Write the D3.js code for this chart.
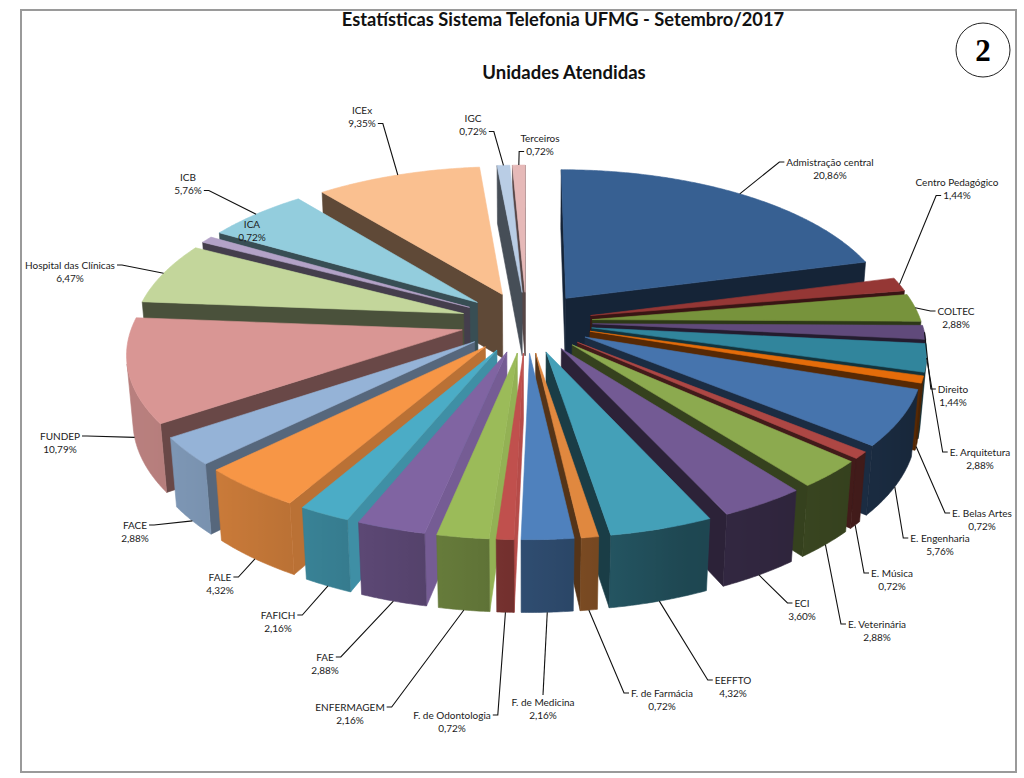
<!DOCTYPE html>
<html>
<head>
<meta charset="utf-8">
<script src="https://cdn.jsdelivr.net/npm/d3@7"></script>
<style>
	body { margin: 0; background: #fff; }
	text { font-family: Lato, "Open Sans", sans-serif; }
	text.badge { font-family: "Liberation Serif", "DejaVu Serif", serif; }
</style>
</head>
<body>
<svg id="chart" width="1024" height="778"></svg>
<script>
// data, clockwise from 12 o'clock
const units = ["Admistração central", "Centro Pedagógico", "COLTEC", "Direito", "E. Arquitetura",
	"E. Belas Artes", "E. Engenharia", "E. Música", "E. Veterinária", "ECI", "EEFFTO",
	"F. de Farmácia", "F. de Medicina", "F. de Odontologia", "ENFERMAGEM", "FAE", "FAFICH",
	"FALE", "FACE", "FUNDEP", "Hospital das Clínicas", "ICA", "ICB", "ICEx", "IGC", "Terceiros"];
const shares = [20.86, 1.44, 2.88, 1.44, 2.88, 0.72, 5.76, 0.72, 2.88, 3.60, 4.32,
	0.72, 2.16, 0.72, 2.16, 2.88, 2.16, 4.32, 2.88, 10.79, 6.47, 0.72, 5.76, 9.35, 0.72, 0.72];

const palette = [
	"#376092", "#953735", "#77933C", "#604A7B", "#31859C", "#E46C0A",
	"#4674AD", "#AD4744", "#8CAA4F", "#735A94", "#44A0B8", "#E0883F",
	"#4F81BD", "#C0504D", "#9BBB59", "#8064A2", "#4BACC6", "#F79646",
	"#95B3D7", "#D99694", "#C3D69B", "#B3A2C7", "#93CDDD", "#FAC090",
	"#B9CDE5", "#E6B9B8"];

// where each data label sits (centre of first line)
const labelAt = [[830, 162], [957, 182], [956, 311], [953, 389], [980, 452], [982, 513],
	[940, 538], [892, 573], [877, 624], [802, 603], [733, 680], [662, 693], [543, 702],
	[452, 715], [350, 707], [325, 657], [278, 615], [220, 577], [135, 525], [60, 436],
	[70, 265], [252, 224], [188, 177], [362, 110], [473, 118], [540, 138]];
const noLeader = ["ICA"];

const svg = d3.select("#chart");
const defs = svg.append("defs");

// frame and titles
svg.append("rect")
	.attr("x", 21).attr("y", 10)
	.attr("width", 995).attr("height", 762)
	.attr("fill", "none").attr("stroke", "#9a9a9a").attr("stroke-width", 2);

svg.append("text")
	.attr("x", 563).attr("y", 26)
	.attr("text-anchor", "middle")
	.attr("font-size", 18.3).attr("font-weight", "bold").attr("fill", "#111")
	.text("Estatísticas Sistema Telefonia UFMG - Setembro/2017");

svg.append("text")
	.attr("x", 564).attr("y", 79)
	.attr("text-anchor", "middle")
	.attr("font-size", 18.5).attr("font-weight", "bold").attr("fill", "#111")
	.text("Unidades Atendidas");

svg.append("circle")
	.attr("cx", 983).attr("cy", 50).attr("r", 27)
	.attr("fill", "none").attr("stroke", "#222").attr("stroke-width", 1);
svg.append("text")
	.attr("class", "badge")
	.attr("x", 983).attr("y", 61)
	.attr("text-anchor", "middle")
	.attr("font-size", 31).attr("font-weight", "bold")
	.text("2");

// 3d view of the pie
const view = {
	cx: 526.5, cy: 322,
	R: 329, depth: 74, explode: 66,
	tilt: 27.5 * Math.PI / 180,
	dist: 2162
};
const sinT = Math.sin(view.tilt), cosT = Math.cos(view.tilt);
const cam = [0, view.dist * sinT, view.dist * cosT];
const deg = Math.PI / 180;

function project(p) {
	let d = -p[1] * sinT - p[2] * cosT;
	let s = view.dist / (view.dist + d);
	return [view.cx + p[0] * s, view.cy + (-p[1] * cosT + p[2] * sinT) * s];
}
function rim(a, r, off, y) {
	return [off[0] + r * Math.sin(a), y, off[2] - r * Math.cos(a)];
}
function seen(n, p) {
	return n[0] * (cam[0] - p[0]) + n[1] * (cam[1] - p[1]) + n[2] * (cam[2] - p[2]) > 0;
}
function shade(col, f) {
	let c = d3.rgb(col);
	return d3.rgb(c.r * f, c.g * f, c.b * f).formatHex();
}
// facing angle of a horizontal normal, same convention as the pie angles
function facing(n) { return Math.atan2(n[0], -n[2]); }

function outerLight(n) {
	let c = Math.cos(facing(n) - 250 * deg);
	return c > 0 ? 0.45 + 0.4 * c : 0.45 + 0.15 * c;
}
function sideLight(n, a) {
	let c = Math.max(0, Math.cos(facing(n) - 90 * deg));
	let g = Math.max(0, -Math.cos(a));
	return 0.38 + 0.57 * c * c * g;
}
function outerSeen(a, off) {
	return seen([Math.sin(a), 0, -Math.cos(a)], rim(a, view.R, off, -view.depth / 2));
}

const line = d3.line();
const arcs = d3.pie().sort(null).value(d => d)(shares);

const slices = arcs.map((d, i) => {
	let mid = (d.startAngle + d.endAngle) / 2;
	return {
		i: i, a0: d.startAngle, a1: d.endAngle, mid: mid,
		off: [view.explode * Math.sin(mid), 0, -view.explode * Math.cos(mid)],
		color: palette[i]
	};
});

const walls = svg.append("g").attr("class", "walls");
const tops = svg.append("g").attr("class", "tops");

function face(g, pts, fill, edge) {
	g.append("path")
		.attr("d", line(pts.map(project)) + "Z")
		.attr("fill", fill)
		.attr("stroke", edge || fill)
		.attr("stroke-width", 0.6)
		.attr("stroke-linejoin", "round");
}

// back slices first
slices.slice().sort((a, b) => -Math.cos(a.mid) + Math.cos(b.mid)).forEach(s => {
	let g = walls.append("g");
	let R = view.R, h = -view.depth;
	let tip = [s.off[0], 0, s.off[2]], tipB = [s.off[0], h, s.off[2]];

	// radial cuts
	let n0 = [-Math.cos(s.a0), 0, -Math.sin(s.a0)];
	if (seen(n0, rim(s.a0, R / 2, s.off, h / 2)))
		face(g, [tip, rim(s.a0, R, s.off, 0), rim(s.a0, R, s.off, h), tipB],
			shade(s.color, sideLight(n0, s.a0)));
	let n1 = [Math.cos(s.a1), 0, Math.sin(s.a1)];
	if (seen(n1, rim(s.a1, R / 2, s.off, h / 2)))
		face(g, [tip, rim(s.a1, R, s.off, 0), rim(s.a1, R, s.off, h), tipB],
			shade(s.color, sideLight(n1, s.a1)));

	// curved outside, one shape with a gradient across it
	let steps = Math.max(2, Math.ceil((s.a1 - s.a0) / (0.5 * deg)));
	let vis = [];
	for (let k = 0; k <= steps; k++) {
		let t = s.a0 + (s.a1 - s.a0) * k / steps;
		if (outerSeen(t, s.off)) vis.push(t);
	}
	if (vis.length < 2) return;
	let upper = vis.map(t => rim(t, R, s.off, 0));
	let lower = vis.map(t => rim(t, R, s.off, h)).reverse();
	let xs = vis.map(t => project(rim(t, R, s.off, h / 2))[0]);
	let x1 = xs[0], x2 = xs[xs.length - 1];
	let id = "wall" + s.i;
	let grad = defs.append("linearGradient")
		.attr("id", id)
		.attr("gradientUnits", "userSpaceOnUse")
		.attr("x1", x1).attr("x2", x2).attr("y1", 0).attr("y2", 0);
	vis.forEach((t, k) => {
		let off = Math.abs(x2 - x1) < 0.5 ? k / (vis.length - 1) : (xs[k] - x1) / (x2 - x1);
		grad.append("stop")
			.attr("offset", Math.max(0, Math.min(1, off)))
			.attr("stop-color", shade(s.color, outerLight([Math.sin(t), 0, -Math.cos(t)])));
	});
	let midT = vis[Math.floor(vis.length / 2)];
	face(g, upper.concat(lower), "url(#" + id + ")",
		shade(s.color, outerLight([Math.sin(midT), 0, -Math.cos(midT)])));
});

// top faces over everything
slices.forEach(s => {
	let pts = [[s.off[0], 0, s.off[2]]];
	let steps = Math.max(2, Math.ceil((s.a1 - s.a0) / (0.5 * deg)));
	for (let k = 0; k <= steps; k++)
		pts.push(rim(s.a0 + (s.a1 - s.a0) * k / steps, view.R, s.off, 0));
	face(tops, pts, s.color);
});

// data labels with leader lines
const pct = v => d3.format(".2f")(v).replace(".", ",") + "%";
const labels = svg.append("g").attr("class", "labels");

slices.forEach(s => {
	let [lx, ly] = labelAt[s.i];
	let t = labels.append("text")
		.attr("text-anchor", "middle")
		.attr("font-size", 10)
		.attr("fill", "#1a1a1a");
	let l1 = t.append("tspan").attr("x", lx).attr("y", ly + 3.5).text(units[s.i]);
	let l2 = t.append("tspan").attr("x", lx).attr("y", ly + 17).text(pct(shares[s.i]));
	if (noLeader.includes(units[s.i])) return;

	let w1 = l1.node().getComputedTextLength(), w2 = l2.node().getComputedTextLength();
	// leader meets the slice at the foot of its side when that side is in view
	let foot = outerSeen(s.mid, s.off) ? -view.depth : 0;
	let anchor = project(rim(s.mid, view.R, s.off, foot));
	let pts;
	let wMax = Math.max(w1, w2);
	if (anchor[0] < lx - wMax / 2 || anchor[0] > lx + wMax / 2) {
		let side = anchor[0] < lx ? -1 : 1;
		let c = [[lx + side * (w1 / 2 + 2), ly], [lx + side * (w2 / 2 + 2), ly + 13.5]];
		let dist = p => Math.hypot(p[0] - anchor[0], p[1] - anchor[1]);
		let p0 = dist(c[0]) <= dist(c[1]) ? c[0] : c[1];
		pts = [p0, [p0[0] + side * 5, p0[1]], anchor];
	} else {
		let p0 = anchor[1] < ly ? [lx, ly - 7] : [lx, ly + 21];
		pts = [p0, anchor];
	}
	labels.append("path")
		.attr("d", line(pts))
		.attr("fill", "none")
		.attr("stroke", "#111")
		.attr("stroke-width", 1.1);
});
</script>
</body>
</html>
